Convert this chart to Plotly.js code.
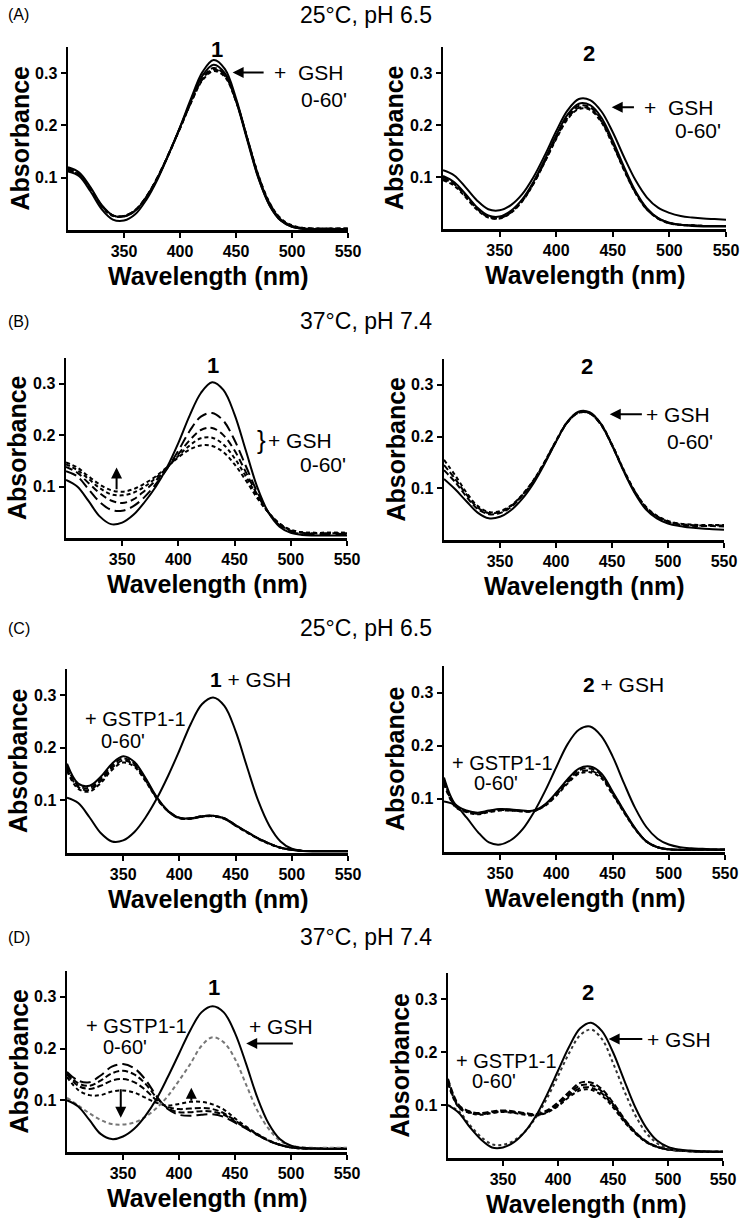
<!DOCTYPE html>
<html><head><meta charset="utf-8">
<script src="https://cdn.plot.ly/plotly-3.0.1.min.js"></script>
<style>html,body{margin:0;padding:0;background:#fff}#chart{width:742px;height:1220px}</style>
</head><body><div id="chart"></div>
<script>
// ---------------- DATA ----------------
const wavelength = [300,310,320,330,340,350,360,370,380,390,400,410,420,430,440,450,460,470,480,490,500,510,520,530,540,550];
const xTicks = [350,400,450,500,550];
const yTicks = [0.1,0.2,0.3];
const yTickText = ['0.1','0.2','0.3'];

// (A) 25°C pH 6.5, compound 1 + GSH 0-60'
const A1_s1 = [0.112,0.103,0.074,0.040,0.020,0.018,0.030,0.058,0.097,0.145,0.197,0.252,0.302,0.325,0.308,0.252,0.175,0.100,0.047,0.018,0.006,0.002,0.001,0.001,0.001,0.001];
const A1_s2 = [0.120,0.110,0.082,0.048,0.028,0.026,0.037,0.063,0.100,0.146,0.196,0.248,0.295,0.316,0.300,0.247,0.172,0.099,0.047,0.018,0.006,0.002,0.001,0.001,0.001,0.001];
const A1_d1 = [0.118,0.108,0.080,0.047,0.028,0.027,0.038,0.064,0.101,0.146,0.195,0.246,0.290,0.310,0.297,0.248,0.176,0.103,0.050,0.020,0.007,0.003,0.002,0.002,0.002,0.002];
const A1_d2 = [0.116,0.106,0.078,0.046,0.028,0.027,0.038,0.064,0.101,0.146,0.195,0.245,0.288,0.307,0.295,0.247,0.176,0.104,0.051,0.021,0.008,0.004,0.003,0.003,0.003,0.003];
const A1_d3 = [0.114,0.105,0.077,0.045,0.027,0.026,0.037,0.063,0.100,0.145,0.194,0.244,0.286,0.304,0.293,0.246,0.176,0.105,0.052,0.022,0.009,0.004,0.003,0.003,0.003,0.003];
// (A) compound 2
const A2_s1 = [0.113,0.103,0.080,0.055,0.038,0.036,0.046,0.067,0.100,0.142,0.188,0.228,0.250,0.248,0.226,0.186,0.138,0.094,0.061,0.041,0.031,0.025,0.022,0.020,0.019,0.018];
const A2_s2 = [0.102,0.090,0.067,0.042,0.026,0.024,0.035,0.057,0.091,0.134,0.180,0.220,0.241,0.238,0.214,0.170,0.119,0.073,0.040,0.021,0.012,0.008,0.006,0.005,0.005,0.005];
const A2_d1 = [0.100,0.088,0.065,0.040,0.024,0.022,0.033,0.055,0.089,0.132,0.177,0.216,0.237,0.234,0.210,0.166,0.116,0.071,0.039,0.021,0.012,0.008,0.007,0.006,0.006,0.006];
const A2_d2 = [0.097,0.086,0.063,0.039,0.023,0.021,0.032,0.054,0.088,0.130,0.175,0.213,0.233,0.231,0.207,0.164,0.114,0.070,0.038,0.020,0.011,0.008,0.007,0.006,0.006,0.006];
const A2_d3 = [0.094,0.083,0.061,0.037,0.022,0.020,0.031,0.053,0.087,0.129,0.173,0.211,0.231,0.229,0.205,0.162,0.113,0.069,0.038,0.020,0.011,0.008,0.007,0.006,0.006,0.006];

// (B) 37°C pH 7.4, compound 1
const B1_s  = [0.113,0.100,0.072,0.042,0.027,0.030,0.045,0.070,0.100,0.138,0.185,0.238,0.282,0.303,0.288,0.240,0.170,0.100,0.050,0.022,0.010,0.006,0.005,0.005,0.005,0.005];
const B1_d1 = [0.130,0.120,0.095,0.070,0.055,0.053,0.062,0.080,0.105,0.135,0.170,0.208,0.236,0.243,0.228,0.190,0.140,0.090,0.050,0.025,0.012,0.008,0.008,0.008,0.008,0.008];
const B1_d2 = [0.138,0.127,0.107,0.087,0.073,0.068,0.075,0.092,0.112,0.136,0.163,0.190,0.210,0.214,0.200,0.170,0.128,0.085,0.050,0.027,0.014,0.010,0.009,0.009,0.009,0.009];
const B1_d3 = [0.143,0.132,0.115,0.097,0.085,0.083,0.088,0.100,0.117,0.137,0.160,0.180,0.194,0.195,0.182,0.155,0.120,0.082,0.050,0.028,0.015,0.011,0.010,0.010,0.010,0.010];
const B1_d4 = [0.147,0.137,0.120,0.104,0.093,0.090,0.095,0.106,0.120,0.138,0.157,0.172,0.180,0.179,0.167,0.143,0.112,0.078,0.050,0.028,0.016,0.011,0.010,0.010,0.010,0.010];
// (B) compound 2
const B2_s  = [0.118,0.098,0.075,0.053,0.042,0.045,0.058,0.080,0.110,0.148,0.190,0.228,0.248,0.247,0.225,0.183,0.135,0.092,0.060,0.042,0.032,0.027,0.024,0.022,0.021,0.020];
const B2_d1 = [0.155,0.125,0.092,0.066,0.054,0.056,0.067,0.088,0.116,0.152,0.192,0.228,0.247,0.246,0.225,0.185,0.138,0.096,0.065,0.047,0.037,0.032,0.030,0.029,0.029,0.029];
const B2_d2 = [0.145,0.118,0.088,0.063,0.052,0.054,0.066,0.087,0.115,0.151,0.191,0.227,0.246,0.245,0.224,0.184,0.137,0.095,0.064,0.046,0.036,0.031,0.029,0.028,0.028,0.028];
const B2_d3 = [0.135,0.112,0.084,0.060,0.050,0.052,0.064,0.086,0.114,0.150,0.190,0.227,0.246,0.245,0.223,0.183,0.136,0.094,0.063,0.045,0.035,0.030,0.028,0.027,0.027,0.026];

// (C) 25°C pH 6.5, compound 1 + GSH, + GSTP1-1 0-60'
const C1_s  = [0.105,0.095,0.068,0.038,0.022,0.024,0.040,0.068,0.104,0.147,0.195,0.245,0.283,0.296,0.280,0.232,0.165,0.100,0.052,0.022,0.008,0.004,0.003,0.003,0.003,0.003];
const C1_d1 = [0.170,0.132,0.128,0.145,0.170,0.184,0.173,0.142,0.106,0.080,0.067,0.066,0.070,0.071,0.066,0.053,0.040,0.028,0.018,0.010,0.006,0.004,0.004,0.004,0.004,0.004];
const C1_d2 = [0.165,0.128,0.124,0.141,0.166,0.180,0.170,0.140,0.105,0.080,0.067,0.066,0.070,0.071,0.066,0.053,0.040,0.028,0.018,0.010,0.006,0.004,0.004,0.004,0.004,0.004];
const C1_d3 = [0.160,0.125,0.120,0.137,0.162,0.176,0.167,0.138,0.104,0.079,0.066,0.065,0.069,0.070,0.065,0.052,0.040,0.028,0.018,0.010,0.006,0.004,0.004,0.004,0.004,0.004];
const C1_d4 = [0.156,0.122,0.117,0.133,0.158,0.172,0.164,0.136,0.103,0.079,0.066,0.065,0.069,0.070,0.065,0.052,0.039,0.027,0.017,0.010,0.006,0.004,0.004,0.004,0.004,0.004];
// (C) compound 2
const C2_s  = [0.095,0.088,0.065,0.038,0.018,0.014,0.023,0.043,0.075,0.115,0.160,0.203,0.230,0.236,0.218,0.180,0.130,0.083,0.047,0.025,0.014,0.009,0.007,0.006,0.005,0.005];
const C2_d1 = [0.140,0.090,0.078,0.074,0.078,0.081,0.080,0.078,0.078,0.090,0.112,0.137,0.157,0.161,0.148,0.114,0.078,0.045,0.020,0.009,0.005,0.004,0.004,0.004,0.004,0.004];
const C2_d2 = [0.136,0.088,0.077,0.073,0.077,0.080,0.079,0.077,0.078,0.089,0.110,0.134,0.154,0.157,0.145,0.112,0.077,0.044,0.020,0.009,0.005,0.004,0.004,0.004,0.004,0.004];
const C2_d3 = [0.132,0.086,0.076,0.072,0.076,0.079,0.078,0.077,0.077,0.088,0.108,0.131,0.150,0.153,0.142,0.110,0.076,0.044,0.020,0.009,0.005,0.004,0.004,0.004,0.004,0.004];
const C2_d4 = [0.128,0.085,0.075,0.071,0.075,0.078,0.078,0.076,0.077,0.087,0.106,0.129,0.147,0.150,0.139,0.108,0.075,0.043,0.020,0.009,0.005,0.004,0.004,0.004,0.004,0.004];

// (D) 37°C pH 7.4, compound 1
const D1_s  = [0.100,0.088,0.062,0.035,0.025,0.030,0.045,0.070,0.103,0.145,0.190,0.235,0.270,0.282,0.270,0.230,0.170,0.105,0.055,0.025,0.012,0.008,0.007,0.006,0.006,0.006];
const D1_g  = [0.105,0.090,0.075,0.062,0.054,0.053,0.057,0.068,0.085,0.108,0.138,0.170,0.205,0.222,0.212,0.180,0.130,0.080,0.045,0.022,0.012,0.009,0.008,0.008,0.008,0.008];
const D1_k1 = [0.155,0.138,0.135,0.148,0.165,0.170,0.162,0.140,0.108,0.083,0.072,0.070,0.072,0.073,0.068,0.057,0.045,0.033,0.022,0.014,0.009,0.007,0.007,0.007,0.007,0.007];
const D1_k2 = [0.152,0.133,0.128,0.138,0.152,0.157,0.150,0.132,0.105,0.085,0.077,0.077,0.079,0.078,0.072,0.059,0.046,0.033,0.022,0.014,0.009,0.007,0.007,0.007,0.007,0.007];
const D1_k3 = [0.150,0.128,0.122,0.128,0.138,0.141,0.135,0.120,0.100,0.087,0.083,0.084,0.085,0.083,0.075,0.061,0.047,0.034,0.022,0.014,0.009,0.007,0.007,0.007,0.007,0.007];
const D1_k4 = [0.145,0.120,0.110,0.110,0.117,0.119,0.115,0.105,0.095,0.090,0.093,0.097,0.097,0.092,0.082,0.065,0.049,0.035,0.023,0.014,0.009,0.007,0.007,0.007,0.007,0.007];
// (D) compound 2
const D2_s  = [0.100,0.085,0.058,0.035,0.020,0.020,0.030,0.050,0.080,0.120,0.165,0.210,0.245,0.256,0.240,0.200,0.148,0.097,0.058,0.033,0.021,0.016,0.014,0.013,0.012,0.012];
const D2_g  = [0.100,0.088,0.062,0.040,0.026,0.025,0.033,0.050,0.077,0.113,0.155,0.198,0.232,0.243,0.225,0.180,0.128,0.082,0.048,0.028,0.018,0.014,0.013,0.012,0.012,0.012];
const D2_v1 = [0.150,0.100,0.088,0.085,0.088,0.090,0.088,0.085,0.083,0.090,0.105,0.125,0.142,0.143,0.130,0.105,0.075,0.050,0.032,0.022,0.017,0.014,0.013,0.012,0.012,0.012];
const D2_v2 = [0.147,0.098,0.087,0.084,0.087,0.089,0.087,0.084,0.082,0.088,0.102,0.121,0.137,0.138,0.126,0.102,0.073,0.049,0.031,0.021,0.016,0.014,0.013,0.012,0.012,0.012];
const D2_v3 = [0.144,0.096,0.086,0.083,0.086,0.088,0.086,0.083,0.081,0.087,0.100,0.118,0.132,0.133,0.122,0.099,0.071,0.048,0.031,0.021,0.016,0.014,0.013,0.012,0.012,0.012];
const D2_v4 = [0.141,0.095,0.085,0.082,0.085,0.087,0.085,0.082,0.080,0.086,0.098,0.115,0.128,0.129,0.118,0.096,0.069,0.047,0.030,0.021,0.016,0.014,0.013,0.012,0.012,0.012];

// ---------------- STYLE / LAYOUT ----------------
const W = 742, H = 1220;
const FONT = '"Liberation Sans", Arial, Helvetica, sans-serif';
const STY = {
  solid: {color:'#000', width:2},
  dash:  {color:'#000', width:2, dash:'6px,3px'},
  long:  {color:'#000', width:2, dash:'11px,5px'},
  med:   {color:'#000', width:2, dash:'7px,4px'},
  short: {color:'#000', width:2, dash:'4px,3px'},
  grey:  {color:'#777', width:2, dash:'4px,3px'},
  dgrey: {color:'#333', width:2, dash:'3px,3px'}
};

// pixel boxes [left, right, top, bottom]
const panels = [
  {box:[68,348,47,230],   series:[[A1_d3,'short'],[A1_d2,'dash'],[A1_d1,'dash'],[A1_s2,'solid'],[A1_s1,'solid']]},
  {box:[443,726,47,229],  series:[[A2_d3,'short'],[A2_d2,'dash'],[A2_d1,'dash'],[A2_s2,'solid'],[A2_s1,'solid']]},
  {box:[66,347,358,538],  series:[[B1_d4,'short'],[B1_d3,'short'],[B1_d2,'med'],[B1_d1,'long'],[B1_s,'solid']]},
  {box:[444,724,359,540], series:[[B2_d1,'short'],[B2_d2,'dash'],[B2_d3,'dash'],[B2_s,'solid']]},
  {box:[67,348,669,853],  series:[[C1_d4,'short'],[C1_d3,'dash'],[C1_d2,'dash'],[C1_d1,'solid'],[C1_s,'solid']]},
  {box:[444,725,666,852], series:[[C2_d4,'short'],[C2_d3,'dash'],[C2_d2,'dash'],[C2_d1,'solid'],[C2_s,'solid']]},
  {box:[67,347,971,1152], series:[[D1_k4,'short'],[D1_k3,'dash'],[D1_k2,'dash'],[D1_k1,'long'],[D1_g,'grey'],[D1_s,'solid']]},
  {box:[448,723,973,1158],series:[[D2_v4,'short'],[D2_v3,'dash'],[D2_v2,'dash'],[D2_v1,'dash'],[D2_g,'dgrey'],[D2_s,'solid']]}
];

const traces = [];
const layout = {
  width: W, height: H, margin:{l:0,r:0,t:0,b:0},
  paper_bgcolor:'#fff', plot_bgcolor:'rgba(0,0,0,0)',
  showlegend:false, font:{family:FONT, color:'#000'},
  annotations: []
};
const px = v => v / W, py = v => 1 - v / H;

panels.forEach((p, i) => {
  const s = i === 0 ? '' : String(i + 1);
  const [l, r, t, b] = p.box;
  p.series.forEach(([vals, st]) => {
    traces.push({x: wavelength, y: vals, type:'scatter', mode:'lines',
      line: Object.assign({shape:'spline', smoothing:1}, STY[st]),
      xaxis:'x' + s, yaxis:'y' + s, hoverinfo:'skip'});
  });
  layout['xaxis' + s] = {domain:[px(l), px(r)], range:[300,550], anchor:'y' + s,
    showline:true, linewidth:2.5, linecolor:'#000', ticks:'outside', ticklen:5, tickwidth:2, tickcolor:'#000',
    tickvals:xTicks, tickfont:{family:FONT, size:16, weight:'bold', color:'#000'},
    showgrid:false, zeroline:false, fixedrange:true};
  layout['yaxis' + s] = {domain:[py(b), py(t)], range:[0,0.35], anchor:'x' + s,
    showline:true, linewidth:2.5, linecolor:'#000', ticks:'outside', ticklen:5, tickwidth:2, tickcolor:'#000',
    tickvals:yTicks, ticktext:yTickText, tickfont:{family:FONT, size:16, weight:'bold', color:'#000'},
    showgrid:false, zeroline:false, fixedrange:true};
  // axis titles
  layout.annotations.push({xref:'paper', yref:'paper', x:px((l + r) / 2), y:py(b + 46), text:'<b>Wavelength (nm)</b>',
    showarrow:false, xanchor:'center', yanchor:'middle', font:{family:FONT, size:25}});
  layout.annotations.push({xref:'paper', yref:'paper', x:px(l - 49), y:py((t + b) / 2), text:'<b>Absorbance</b>',
    showarrow:false, textangle:-90, xanchor:'center', yanchor:'middle', font:{family:FONT, size:25}});
});

const A = layout.annotations;
function txt(s, x, y, text, size, extra) {
  A.push(Object.assign({xref:'x' + s, yref:'y' + s, x:x, y:y, text:text, showarrow:false,
    xanchor:'center', yanchor:'middle', font:{family:FONT, size:size || 21}}, extra || {}));
}
function arrow(s, x, y, ax, ay) {
  A.push({xref:'x' + s, yref:'y' + s, axref:'x' + s, ayref:'y' + s, x:x, y:y, ax:ax, ay:ay, text:'',
    showarrow:true, arrowhead:2, arrowsize:1.1, arrowwidth:2, arrowcolor:'#000', standoff:0, startstandoff:0});
}
// headers
const heads = [['(A)','25°C, pH 6.5',15],['(B)','37°C, pH 7.4',321],['(C)','25°C, pH 6.5',628],['(D)','37°C, pH 7.4',937]];
heads.forEach(([lab, cond, y]) => {
  A.push({xref:'paper', yref:'paper', x:px(6), y:py(y), text:lab, showarrow:false, xanchor:'left', yanchor:'middle', font:{family:FONT, size:16}});
  A.push({xref:'paper', yref:'paper', x:px(366), y:py(y), text:cond, showarrow:false, xanchor:'center', yanchor:'middle', font:{family:FONT, size:23}});
});

// (A) left
txt('', 433, 0.345, '<b>1</b>', 22);
arrow('', 447, 0.301, 476, 0.301);
txt('', 482, 0.301, '+  GSH', 21, {xanchor:'left'});
txt('', 529, 0.250, "0-60'", 21);
// (A) right
txt('2', 429, 0.338, '<b>2</b>', 22);
arrow('2', 449, 0.234, 470, 0.234);
txt('2', 476, 0.234, '+  GSH', 21, {xanchor:'left'});
txt('2', 525, 0.19, "0-60'", 21);
// (B) left
txt('3', 431, 0.335, '<b>1</b>', 22);
txt('3', 468, 0.19, '}', 26, {xanchor:'left'});
txt('3', 478, 0.19, '+ GSH', 21, {xanchor:'left'});
txt('3', 529, 0.143, "0-60'", 21);
arrow('3', 345, 0.137, 345, 0.092);
// (B) right
txt('4', 428, 0.335, '<b>2</b>', 22);
arrow('4', 448, 0.243, 478, 0.243);
txt('4', 479, 0.243, '+ GSH', 21, {xanchor:'left'});
txt('4', 520, 0.19, "0-60'", 21);
// (C) left
txt('5', 463, 0.33, '<b>1</b> + GSH', 21);
txt('5', 361, 0.255, '+ GSTP1-1', 20);
txt('5', 350, 0.213, "0-60'", 20);
// (C) right
txt('6', 460, 0.315, '<b>2</b> + GSH', 21);
txt('6', 352, 0.168, '+ GSTP1-1', 20);
txt('6', 346, 0.13, "0-60'", 20);
// (D) left
txt('7', 431, 0.318, '<b>1</b>', 22);
txt('7', 491, 0.243, '+ GSH', 21);
arrow('7', 460, 0.21, 503, 0.21);
txt('7', 362, 0.243, '+ GSTP1-1', 20);
txt('7', 352, 0.203, "0-60'", 20);
arrow('7', 348, 0.066, 348, 0.124);
arrow('7', 411, 0.124, 411, 0.096);
// (D) right
txt('8', 427, 0.313, '<b>2</b>', 22);
arrow('8', 446, 0.225, 478, 0.225);
txt('8', 479, 0.225, '+ GSH', 21, {xanchor:'left'});
txt('8', 353, 0.183, '+ GSTP1-1', 20);
txt('8', 342, 0.145, "0-60'", 20);

Plotly.newPlot('chart', traces, layout, {staticPlot:true, displayModeBar:false});
</script>
</body></html>
